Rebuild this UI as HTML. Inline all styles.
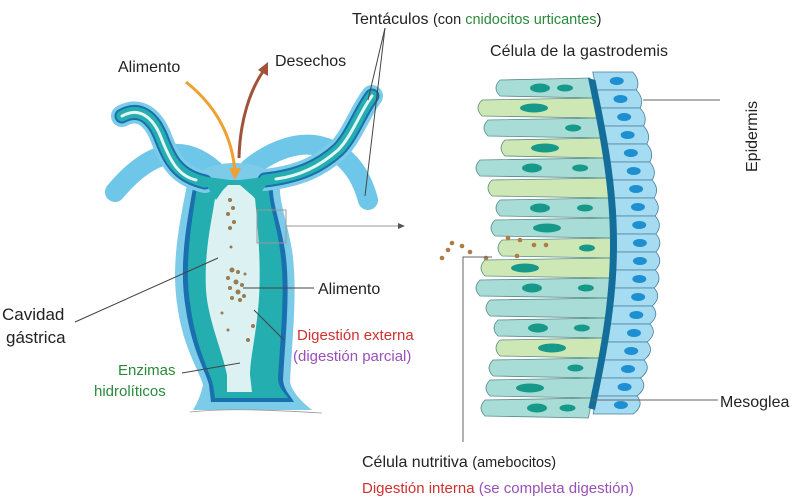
<!DOCTYPE html>
<html><head><meta charset="utf-8"><style>
html,body{margin:0;padding:0;background:#fff;width:800px;height:503px;overflow:hidden}
svg{display:block}
text{font-family:"Liberation Sans",sans-serif}
</style></head><body>
<svg id="s" width="800" height="503" viewBox="0 0 800 503" xmlns="http://www.w3.org/2000/svg">
<g id="cells"></g>
<!-- background tentacles -->
<path d="M220,176 C185,140 150,150 115,192" fill="none" stroke="#6ec6e8" stroke-width="20" stroke-linecap="round"/>
<path d="M250,168 C300,128 352,140 368,200" fill="none" stroke="#6ec6e8" stroke-width="20" stroke-linecap="round"/>
<!-- body -->
<path d="M200,172 C215,160 255,160 270,172 L280,180 C278,200 287,220 292,250 C298,290 292,340 290,382 C292,392 302,402 312,410 L193,410 C196,405 200,398 203,385 C200,372 184,350 178,310 C170,265 180,220 188,180Z" fill="#7ccbe8"/>
<path d="M194,182 C187,222 178,265 186,310 C192,350 206,372 209,385 L211,402 L294,402 C290,395 284,390 283,380 C285,340 291,290 285,250 C280,220 271,200 273,182 Z" fill="#1a6fae"/>
<path d="M198,180 C192,222 183,265 191,310 C197,350 210,372 213,385 L215,398 L288,398 C284,392 279,388 278,380 C280,340 286,290 280,250 C276,220 267,200 269,180 Z" fill="#24aeb0"/>
<path d="M215,198 L228,185 L240,185 L255,198 C258,230 262,270 258,310 C255,340 250,360 250,375 L252,392 L227,392 L227,375 C222,350 208,320 206,290 C204,250 212,220 215,198Z" fill="#dcf1f1"/>
<!-- front tentacles -->
<g fill="none" stroke-linecap="round">
<path d="M205,182 C178,176 170,160 162,140 C154,118 140,106 122,116" stroke="#7ccbe8" stroke-width="22"/>
<path d="M205,182 C178,176 170,160 162,140 C154,118 140,106 122,116" stroke="#1a6fae" stroke-width="15"/>
<path d="M205,182 C178,176 170,160 162,140 C154,118 140,106 122,116" stroke="#24aeb0" stroke-width="11"/>
<path d="M196,180 C178,176 170,160 162,140 C154,118 140,106 122,116" stroke="#e6f6f6" stroke-width="3"/>
<path d="M265,180 C300,176 320,166 338,150 C352,136 360,112 372,96" stroke="#7ccbe8" stroke-width="22"/>
<path d="M265,180 C300,176 320,166 338,150 C352,136 360,112 372,96" stroke="#1a6fae" stroke-width="15"/>
<path d="M265,180 C300,176 320,166 338,150 C352,136 360,112 372,96" stroke="#24aeb0" stroke-width="11"/>
<path d="M276,179 C300,176 320,166 338,150 C352,136 360,112 372,96" stroke="#e6f6f6" stroke-width="3"/>
</g>
<path d="M200,176 L230,180 L216,200 Z M272,176 L240,180 L256,200Z" fill="#24aeb0"/>
<path d="M190,412 C230,408 270,410 322,413" stroke="#999" stroke-width="0.8" fill="none"/>
<!-- food particles -->
<g fill="#9a7a50">
<circle cx="230" cy="200" r="2"/><circle cx="233" cy="208" r="2"/><circle cx="228" cy="214" r="2"/><circle cx="234" cy="222" r="2"/><circle cx="230" cy="228" r="2"/><circle cx="231" cy="247" r="1.5"/>
<circle cx="232" cy="270" r="2.5"/><circle cx="238" cy="272" r="2"/><circle cx="228" cy="278" r="2"/><circle cx="236" cy="282" r="2.5"/><circle cx="242" cy="285" r="2"/><circle cx="230" cy="288" r="2"/><circle cx="238" cy="292" r="2.5"/><circle cx="244" cy="296" r="2"/><circle cx="232" cy="298" r="2"/><circle cx="240" cy="300" r="2"/><circle cx="245" cy="274" r="1.5"/>
<circle cx="222" cy="313" r="1.5"/><circle cx="253" cy="326" r="2"/><circle cx="228" cy="330" r="1.5"/><circle cx="248" cy="340" r="2"/>
</g>
<!-- arrows -->
<path d="M186,82 C215,105 232,135 235,172" fill="none" stroke="#f0a030" stroke-width="3"/>
<path d="M229,168 L235,180 L241,168Z" fill="#f0a030"/>
<path d="M239,158 C240,120 250,90 264,70" fill="none" stroke="#a0523a" stroke-width="3"/>
<path d="M258,70 L268,62 L268,76Z" fill="#a0523a"/>
<!-- box & connector -->
<rect x="257" y="210" width="29" height="33" fill="none" stroke="#999" stroke-width="1"/>
<line x1="286" y1="226" x2="400" y2="226" stroke="#999" stroke-width="1"/>
<path d="M398,223 L405,226 L398,229Z" fill="#555"/>
<!-- label lines -->
<g stroke="#444" stroke-width="1" fill="none">
<line x1="385" y1="28" x2="368" y2="100"/><line x1="385" y1="28" x2="365" y2="196"/>
<line x1="75" y1="322" x2="218" y2="258"/>
<line x1="243" y1="288" x2="314" y2="288"/>
<line x1="254" y1="310" x2="284" y2="340"/>
<line x1="182" y1="373" x2="240" y2="363"/>
<line x1="643" y1="100" x2="720" y2="100" stroke="#666"/>
<line x1="590" y1="400" x2="718" y2="400" stroke="#666"/>
<polyline points="492,257 463,257 463,442" stroke="#666"/>
</g>
<!-- text -->
<text x="352" y="24" font-size="16" fill="#222">Tentáculos <tspan font-size="14.5">(con </tspan><tspan font-size="14.5" fill="#2a8a3a">cnidocitos urticantes</tspan><tspan font-size="14.5">)</tspan></text>
<text x="490" y="56" font-size="16" fill="#222" textLength="178">Célula de la gastrodemis</text>
<text x="118" y="72" font-size="16" fill="#222">Alimento</text>
<text x="275" y="66" font-size="16" fill="#222">Desechos</text>
<text transform="translate(757,172) rotate(-90)" font-size="16" fill="#222">Epidermis</text>
<text x="2" y="320" font-size="17" fill="#222">Cavidad</text>
<text x="6" y="343" font-size="17" fill="#222">gástrica</text>
<text x="318" y="294" font-size="16" fill="#222">Alimento</text>
<text x="297" y="340" font-size="15" fill="#d03030">Digestión externa</text>
<text x="293" y="361" font-size="15" fill="#9a50b8">(digestión parcial)</text>
<text x="118" y="375" font-size="15" fill="#2a8a3a">Enzimas</text>
<text x="94" y="396" font-size="15" fill="#2a8a3a">hidrolíticos</text>
<text x="720" y="407" font-size="16" fill="#222">Mesoglea</text>
<text x="362" y="467" font-size="16" fill="#222">Célula nutritiva <tspan font-size="14.5">(amebocitos)</tspan></text>
<text x="362" y="493" font-size="15" fill="#d03030">Digestión interna <tspan fill="#9a50b8">(se completa digestión)</tspan></text>
</svg>
<script>
(function(){
var g=document.getElementById('cells'),h='';
function m(y){return 590+22*Math.sin(Math.PI*(y-78)/332);}
var lefts=[500,482,488,505,480,492,500,495,502,485,480,490,498,500,493,490,485];
var y=78,i=0;
while(y<405){var hh=20;var x0=lefts[i%lefts.length];var y1=y+hh;var col=(i%4==1||i%5==3)?'#cde8b4':'#a8dcd6';
var r0=m(y),r1=m(y1);
h+='<path d="M'+x0+','+(y+2)+' Q'+(x0-8)+','+(y+hh/2)+' '+x0+','+(y1-2)+' L'+r1+','+y1+' L'+r0+','+y+'Z" fill="'+col+'" stroke="#5a8a88" stroke-width="0.8"/>';
if(i%3!=2)h+='<ellipse cx="'+(x0+40+(i%3)*12)+'" cy="'+(y+hh/2)+'" rx="'+(10+(i%2)*4)+'" ry="4.5" fill="#17998a"/>';
if(i%2==0)h+='<ellipse cx="'+(r0-25)+'" cy="'+(y+hh/2)+'" rx="8" ry="3.5" fill="#17998a"/>';
y=y1;i++;}
y=72;i=0;
while(y<412){var hh=18;var a=m(y)+4,b=m(y+hh)+4;
h+='<path d="M'+a+','+y+' L'+(a+40)+','+y+' Q'+(a+48)+','+(y+hh/2)+' '+(b+40)+','+(y+hh)+' L'+b+','+(y+hh)+'Z" fill="#a6dcf2" stroke="#4a7e9a" stroke-width="0.8"/>';
h+='<ellipse cx="'+(a+24)+'" cy="'+(y+hh/2)+'" rx="7" ry="4" fill="#1e8fd0"/>';
y+=hh;i++;}
var d='M588,78';for(var yy=78;yy<=410;yy+=10)d+=' L'+(m(yy)-2)+','+yy;for(var yy=410;yy>=78;yy-=10)d+=' L'+(m(yy)+5)+','+yy;d+='Z';
h+='<path d="'+d+'" fill="#136f9a"/>';
var p=[[442,258],[452,243],[448,250],[462,246],[470,252],[486,258],[520,240],[534,245],[546,245],[517,256],[508,238]];
p.forEach(function(q){h+='<circle cx="'+q[0]+'" cy="'+q[1]+'" r="2.3" fill="#b07a40"/>';});
g.innerHTML=h;
})();
</script>
</body></html>
